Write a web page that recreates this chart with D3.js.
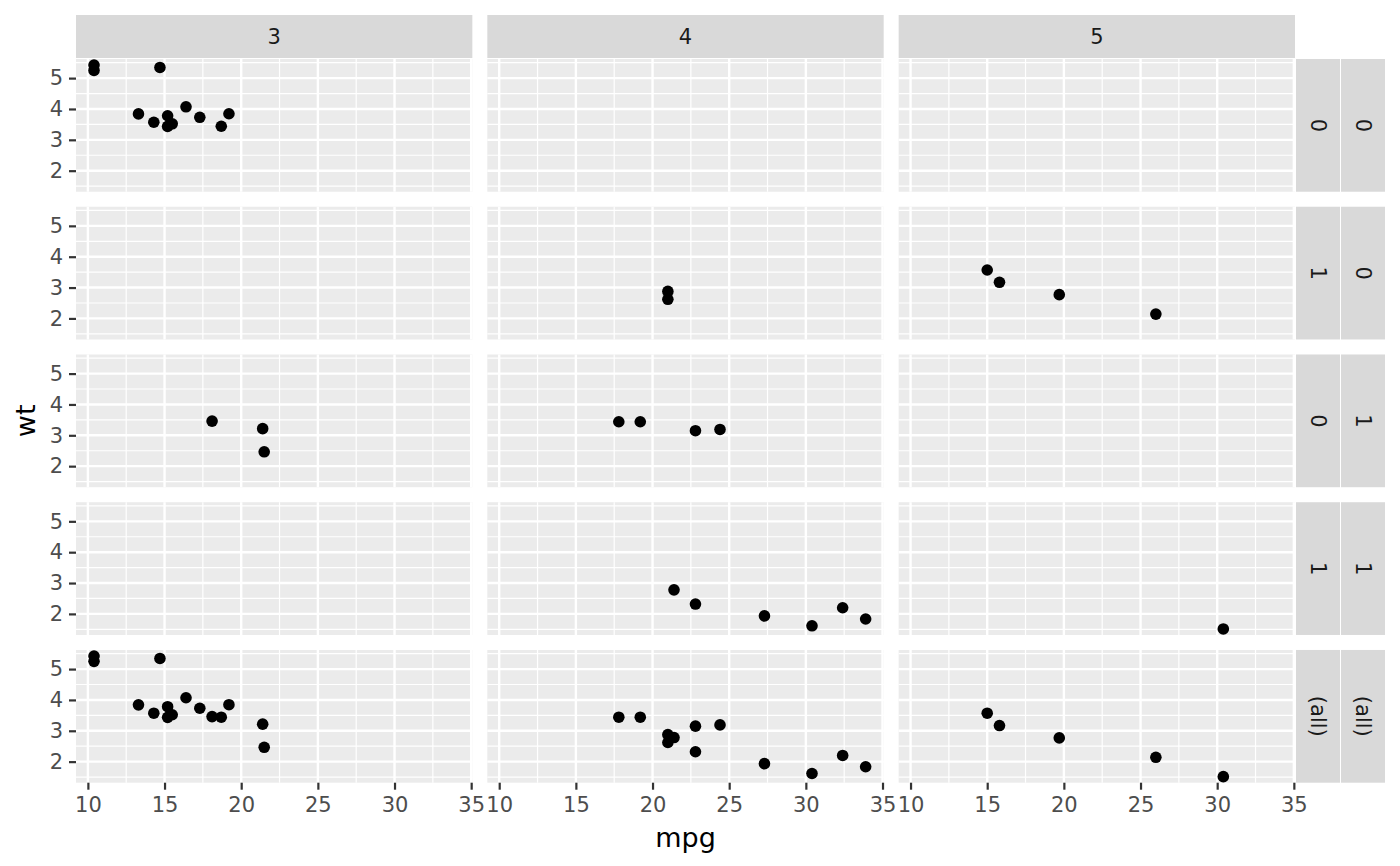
<!DOCTYPE html>
<html>
<head>
<meta charset="utf-8">
<script src="https://cdn.jsdelivr.net/npm/d3@7"></script>
<style>
  body { margin: 0; background: #fff; }
  text { font-family: "DejaVu Sans", sans-serif; }
</style>
</head>
<body>
<div id="canvas"></div>
<script>
// mtcars columns
var mpg  = [21.0,21.0,22.8,21.4,18.7,18.1,14.3,24.4,22.8,19.2,17.8,16.4,17.3,15.2,10.4,10.4,
            14.7,32.4,30.4,33.9,21.5,15.5,15.2,13.3,19.2,27.3,26.0,30.4,15.8,19.7,15.0,21.4];
var wt   = [2.620,2.875,2.320,3.215,3.440,3.460,3.570,3.190,3.150,3.440,3.440,4.070,3.730,3.780,5.250,5.424,
            5.345,2.200,1.615,1.835,2.465,3.520,3.435,3.840,3.845,1.935,2.140,1.513,3.170,2.770,3.570,2.780];
var vs   = [0,0,1,1,0,1,0,1,1,1,1,0,0,0,0,0,0,1,1,1,1,0,0,0,0,1,0,1,0,0,0,1];
var am   = [1,1,1,0,0,0,0,0,0,0,0,0,0,0,0,0,0,1,1,1,0,0,0,0,0,1,1,1,1,1,1,1];
var gear = [4,4,4,3,3,3,3,4,4,4,4,3,3,3,3,3,3,4,4,4,3,3,3,3,3,4,5,5,5,5,5,4];

var colLevels = [3,4,5];
// row facets: vs + am, plus margin row
var rowVs = [0,0,1,1,null];
var rowAm = [0,1,0,1,null];
var rowLabAm = ['0','1','0','1','(all)'];
var rowLabVs = ['0','0','1','1','(all)'];

var xTicks = [10,15,20,25,30,35];
var xMinor = [12.5,17.5,22.5,27.5,32.5];
var yTicks = [2,3,4,5];
var yMinor = [1.5,2.5,3.5,4.5,5.5];

var W = 1400, H = 866;
var m = {l:76, r:1295, t:59, b:782.7}, gap = 15;
var pw = (m.r - m.l - 2*gap)/3,
    ph = (m.b - m.t - 4*gap)/5;
var fs = 21;

var svg = d3.select('#canvas').append('svg')
    .attr('width', W).attr('height', H);

// scales, with ggplot's 5% expansion
var xr = d3.extent(mpg), yr = d3.extent(wt);
var xe = (xr[1]-xr[0])*0.05, ye = (yr[1]-yr[0])*0.05;
var x = d3.scaleLinear().domain([xr[0]-xe, xr[1]+xe]).range([0, pw]);
var y = d3.scaleLinear().domain([yr[0]-ye, yr[1]+ye]).range([ph, 0]);

var cars = d3.range(mpg.length).map(function(i){
    return {mpg:mpg[i], wt:wt[i], vs:vs[i], am:am[i], gear:gear[i]};
});

function styleAxis(a){
    a.select('.domain').remove();
    a.selectAll('line').attr('stroke', '#333').attr('stroke-width', 2.2);
    a.selectAll('text').attr('fill', '#4d4d4d').attr('font-size', fs)
        .attr('font-family', '"DejaVu Sans", sans-serif');
}

// top strips
colLevels.forEach(function(g, c){
    var sx = m.l + c*(pw+gap);
    svg.append('rect').attr('x', sx).attr('y', 15).attr('width', pw).attr('height', 43)
        .attr('fill', '#d9d9d9');
    svg.append('text').attr('x', sx + pw/2).attr('y', 37).attr('dy', '0.35em')
        .attr('text-anchor', 'middle').attr('font-size', fs).attr('fill', '#1a1a1a')
        .text(g);
});

rowVs.forEach(function(rv, r){
    var py = m.t + r*(ph+gap);

    // right strips
    [[1296, rowLabAm[r]], [1341, rowLabVs[r]]].forEach(function(s){
        svg.append('rect').attr('x', s[0]).attr('y', py).attr('width', 44).attr('height', ph)
            .attr('fill', '#d9d9d9');
        svg.append('text')
            .attr('transform', 'translate(' + (s[0]+22) + ',' + (py+ph/2) + ') rotate(90)')
            .attr('dy', '0.35em').attr('text-anchor', 'middle')
            .attr('font-size', fs).attr('fill', '#1a1a1a').text(s[1]);
    });

    colLevels.forEach(function(g, c){
        var px = m.l + c*(pw+gap);
        var p = svg.append('g').attr('transform', 'translate(' + px + ',' + py + ')');

        p.append('rect').attr('width', pw).attr('height', ph).attr('fill', '#ebebeb');

        p.selectAll('.xminor').data(xMinor).enter().append('line')
            .attr('x1', x).attr('x2', x).attr('y1', 0).attr('y2', ph)
            .attr('stroke', '#fff').attr('stroke-width', 1.2);
        p.selectAll('.yminor').data(yMinor).enter().append('line')
            .attr('y1', y).attr('y2', y).attr('x1', 0).attr('x2', pw)
            .attr('stroke', '#fff').attr('stroke-width', 1.2);
        p.selectAll('.xmajor').data(xTicks).enter().append('line')
            .attr('x1', x).attr('x2', x).attr('y1', 0).attr('y2', ph)
            .attr('stroke', '#fff').attr('stroke-width', 2.4);
        p.selectAll('.ymajor').data(yTicks).enter().append('line')
            .attr('y1', y).attr('y2', y).attr('x1', 0).attr('x2', pw)
            .attr('stroke', '#fff').attr('stroke-width', 2.4);

        var sub = cars.filter(function(d){
            return d.gear === g && (rv === null || (d.vs === rv && d.am === rowAm[r]));
        });
        p.selectAll('.pt').data(sub).enter().append('circle')
            .attr('cx', function(d){ return x(d.mpg); })
            .attr('cy', function(d){ return y(d.wt); })
            .attr('r', 5.8).attr('fill', '#000');

        if (c === 0) {
            var ya = p.append('g').call(d3.axisLeft(y).tickValues(yTicks)
                .tickFormat(d3.format('d')).tickSize(7).tickPadding(6));
            styleAxis(ya);
        }
        if (r === rowVs.length - 1) {
            var xa = p.append('g').attr('transform', 'translate(0,' + ph + ')')
                .call(d3.axisBottom(x).tickValues(xTicks).tickSize(7).tickPadding(7));
            styleAxis(xa);
        }
    });
});

// axis titles
svg.append('text').attr('x', (m.l+m.r)/2).attr('y', 847)
    .attr('text-anchor', 'middle').attr('font-size', 27).attr('fill', '#000').text('mpg');
svg.append('text').attr('transform', 'translate(35,' + ((m.t+m.b)/2) + ') rotate(-90)')
    .attr('text-anchor', 'middle').attr('font-size', 27).attr('fill', '#000').text('wt');
</script>
</body>
</html>
